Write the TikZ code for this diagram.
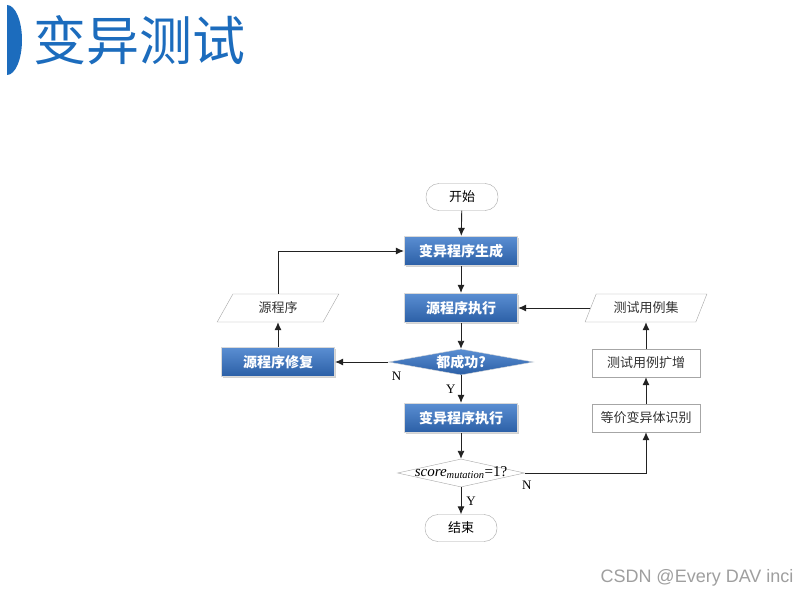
\documentclass[tikz,border=0pt]{standalone}
\usepackage{fontspec}
\setmainfont{Liberation Serif}
\newfontfamily\cjk{Noto Sans CJK SC}
\newfontfamily\wmark{Liberation Sans}
\usetikzlibrary{shapes.geometric,arrows.meta,shadows}

\definecolor{titleblue}{HTML}{1C6CBD}
\definecolor{boxtop}{HTML}{5A8ED2}
\definecolor{boxbot}{HTML}{2B5FA6}
\definecolor{flowgray}{HTML}{222222}

\tikzset{
  termbox/.style={draw=gray!70, rounded corners=13pt, minimum width=72pt,
    minimum height=27pt, font=\cjk\fontsize{13}{15}\selectfont},
  procbox/.style={draw=gray!30, line width=1.2pt, top color=boxtop, bottom color=boxbot,
    minimum width=113pt, minimum height=29pt, text=white,
    font=\cjk\bfseries\fontsize{14}{16}\selectfont,
    drop shadow={opacity=0.35, shadow xshift=1.5pt, shadow yshift=-1.5pt}},
  plainbox/.style={draw=gray!70, fill=white, minimum width=108pt, minimum height=28pt,
    text=black!80, font=\cjk\fontsize{13}{15}\selectfont},
  iobox/.style={trapezium, trapezium left angle=67, trapezium right angle=113,
    trapezium stretches=true, draw=gray!70, minimum width=122pt, minimum height=28pt,
    text=black!80, font=\cjk\fontsize{13}{15}\selectfont},
  decblue/.style={diamond, inner sep=0pt, minimum width=145pt, minimum height=26pt,
    draw=gray!30, top color=boxtop, bottom color=boxbot,
    label={[text=white, font=\cjk\bfseries\fontsize{14}{16}\selectfont]center:#1}},
  decwhite/.style={diamond, inner sep=0pt, minimum width=127pt, minimum height=28pt,
    draw=gray!70, label={[font=\fontsize{15}{17}\selectfont]center:#1}},
  flow/.style={draw=flowgray, line width=0.9pt, -{Latex[length=8pt,width=7pt]}},
  lab/.style={font=\fontsize{13}{15}\selectfont, inner sep=1pt},
}

\begin{document}
\begin{tikzpicture}[x=1pt, y=-1pt]
   \useasboundingbox [fill=white] (0,0) rectangle (809,599);

   % title
   \fill [titleblue] (7,5) arc [start angle=-90, end angle=90, x radius=15, y radius=35] -- cycle;
   \node (Title) at (140,40) [text=titleblue, font=\cjk\fontsize{53}{58}\selectfont] {变异测试};

   % main column
   \node (Start) at (462,197) [termbox] {开始};
   \node (MutGen) at (461,251) [procbox] {变异程序生成};
   \node (SrcExec) at (461,308) [procbox] {源程序执行};
   \node (AllPass) at (461,362) [decblue={都成功?}] {};
   \node (MutExec) at (461,418) [procbox] {变异程序执行};
   \node (Score) at (461,473) [decwhite={\textit{score}\textsubscript{\textit{mutation}}=1?}] {};
   \node (End) at (461,528) [termbox] {结束};

   % left column
   \node (Src) at (278,308) [iobox] {源程序};
   \node (SrcFix) at (278,362) [procbox] {源程序修复};

   % right column
   \node (TestSet) at (646,308) [iobox] {测试用例集};
   \node (TestAug) at (646,363) [plainbox] {测试用例扩增};
   \node (EqMut) at (646,418) [plainbox] {等价变异体识别};

   \draw [flow] (Start) -- (MutGen);
   \draw [flow] (MutGen) -- (SrcExec);
   \draw [flow] (SrcExec) -- (AllPass);
   \draw [flow] (AllPass) -- node [lab, left, xshift=-4pt] {Y} (MutExec);
   \draw [flow] (AllPass.west) -- node [lab, at start, anchor=north west, xshift=2pt, yshift=-9pt] {N} (SrcFix.east);
   \draw [flow] (SrcFix) -- (Src);
   \draw [flow] (Src.north) |- (MutGen.west);

   \draw [flow] (MutExec) -- (Score);
   \draw [flow] (Score) -- node [lab, right, xshift=4pt] {Y} (End);
   \draw [flow] (Score.east) -| node [lab, at start, anchor=north west, xshift=-4pt, yshift=-7pt] {N} (EqMut.south);
   \draw [flow] (EqMut) -- (TestAug);
   \draw [flow] (TestAug) -- (TestSet);
   \draw [flow] (TestSet.west) -- (SrcExec.east);

   % watermark
   \node (Mark) at (697,578) [text=gray!75, font=\wmark\fontsize{18}{20}\selectfont] {CSDN @Every DAV inci};
\end{tikzpicture}
\end{document}
